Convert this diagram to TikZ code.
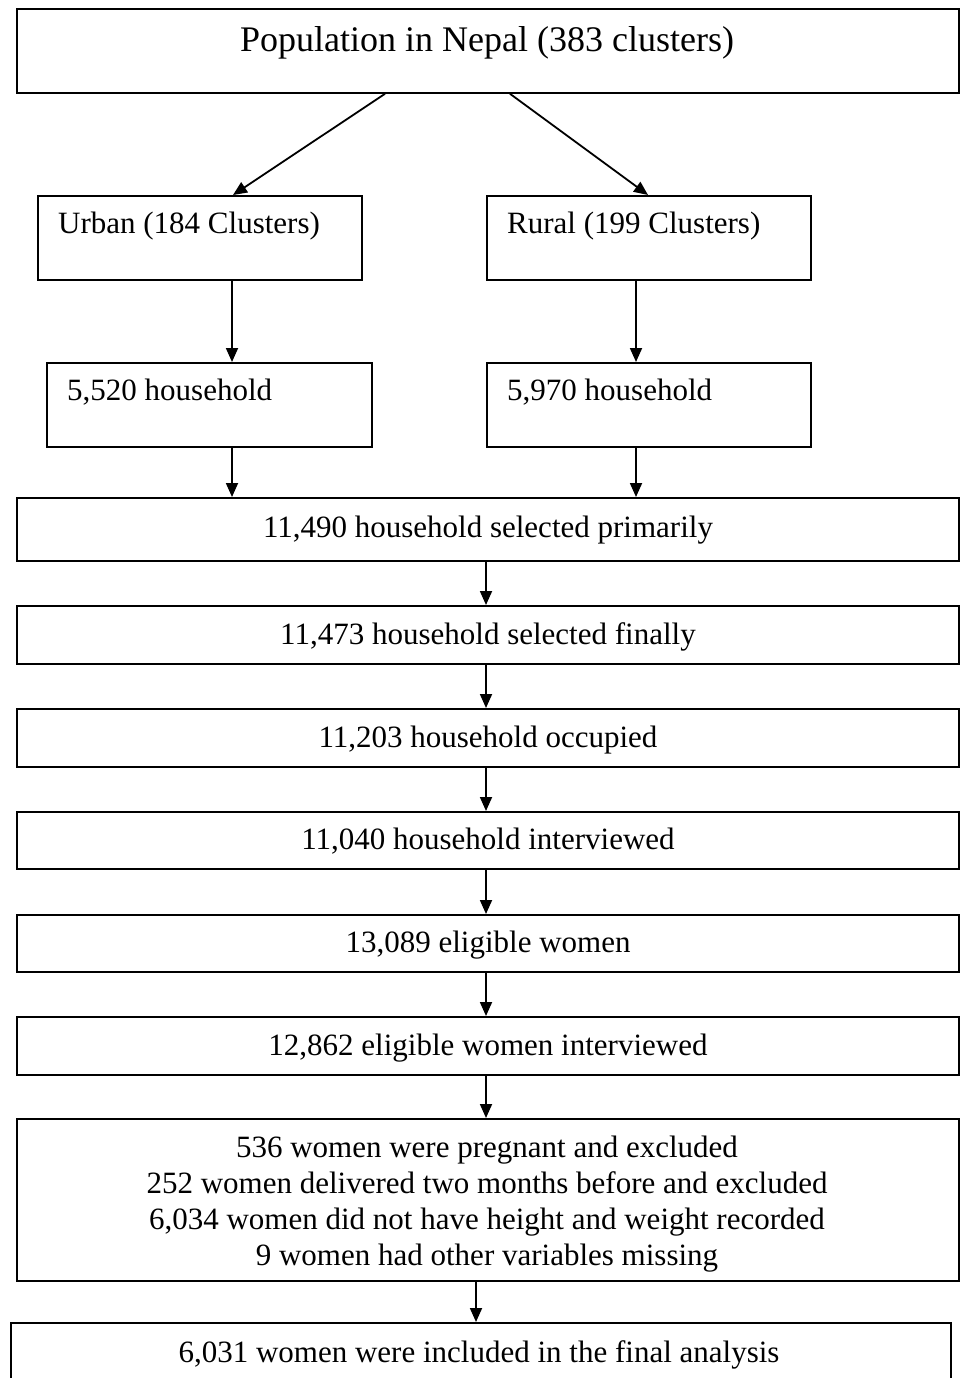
\documentclass[tikz,border=0pt]{standalone}
\usepackage{fontspec}
\setmainfont{Liberation Serif}
\usetikzlibrary{arrows.meta,calc}
\tikzset{
  flowbox/.style={draw, line width=1.8pt, rectangle, inner sep=0pt, anchor=north west},
  lbl/.style={font=\fontsize{31}{36}\selectfont, inner sep=0pt, anchor=base},
  lblw/.style={lbl, anchor=base west},
  arr/.style={line width=1.8pt, -{Triangle[length=14pt,width=12pt]}}
}
\begin{document}
\begin{tikzpicture}[x=1pt,y=-1pt]
\useasboundingbox (0,0) rectangle (960,1378);
\clip (0,0) rectangle (960,1378);
\fill[white] (0,0) rectangle (960,1378);

% boxes
\node[flowbox, minimum width=942pt, minimum height=84pt] (pop) at (16,8) {};
\node[flowbox, minimum width=324pt, minimum height=84pt] (urban) at (37,195) {};
\node[flowbox, minimum width=324pt, minimum height=84pt] (rural) at (486,195) {};
\node[flowbox, minimum width=325pt, minimum height=84pt] (hu) at (46,362) {};
\node[flowbox, minimum width=324pt, minimum height=84pt] (hr) at (486,362) {};
\node[flowbox, minimum width=942pt, minimum height=63pt] (b1) at (16,497) {};
\node[flowbox, minimum width=942pt, minimum height=58pt] (b2) at (16,605) {};
\node[flowbox, minimum width=942pt, minimum height=58pt] (b3) at (16,708) {};
\node[flowbox, minimum width=942pt, minimum height=57pt] (b4) at (16,811) {};
\node[flowbox, minimum width=942pt, minimum height=57pt] (b5) at (16,914) {};
\node[flowbox, minimum width=942pt, minimum height=58pt] (b6) at (16,1016) {};
\node[flowbox, minimum width=942pt, minimum height=162pt] (excl) at (16,1118) {};
\node[flowbox, minimum width=940pt, minimum height=100pt] (final) at (10,1322) {};

% texts
\node[lbl, font=\fontsize{36}{40}\selectfont] (tpop) at (487,52) {Population in Nepal (383 clusters)};
\node[lblw] (turban) at (58,233) {Urban (184 Clusters)};
\node[lblw] (trural) at (507,233) {Rural (199 Clusters)};
\node[lblw] (thu) at (67,400) {5,520 household};
\node[lblw] (thr) at (507,400) {5,970 household};
\node[lbl] (tb1) at (488,537) {11,490 household selected primarily};
\node[lbl] (tb2) at (488,644) {11,473 household selected finally};
\node[lbl] (tb3) at (488,747) {11,203 household occupied};
\node[lbl] (tb4) at (488,849) {11,040 household interviewed};
\node[lbl] (tb5) at (488,952) {13,089 eligible women};
\node[lbl] (tb6) at (488,1055) {12,862 eligible women interviewed};
\node[lbl, anchor=center, align=center] (texcl) at (487,1204)
  {536 women were pregnant and excluded\\
   252 women delivered two months before and excluded\\
   6,034 women did not have height and weight recorded\\
   9 women had other variables missing};
\node[lbl] (tfinal) at (479,1362) {6,031 women were included in the final analysis};

% connector x positions
\coordinate (xa) at (385,0);
\coordinate (xb) at (510,0);
\coordinate (xu) at (233,0);
\coordinate (xr) at (648,0);
\coordinate (xl) at (232,0);
\coordinate (xrr) at (636,0);
\coordinate (xc) at (486,0);
\coordinate (xf) at (476,0);

% connectors
\draw[arr] (pop.south -| xa) -- (urban.north -| xu);
\draw[arr] (pop.south -| xb) -- (rural.north -| xr);
\draw[arr] (urban.south -| xl) -- (hu.north -| xl);
\draw[arr] (rural.south -| xrr) -- (hr.north -| xrr);
\draw[arr] (hu.south -| xl) -- (b1.north -| xl);
\draw[arr] (hr.south -| xrr) -- (b1.north -| xrr);
\draw[arr] (b1.south -| xc) -- (b2.north -| xc);
\draw[arr] (b2.south -| xc) -- (b3.north -| xc);
\draw[arr] (b3.south -| xc) -- (b4.north -| xc);
\draw[arr] (b4.south -| xc) -- (b5.north -| xc);
\draw[arr] (b5.south -| xc) -- (b6.north -| xc);
\draw[arr] (b6.south -| xc) -- (excl.north -| xc);
\draw[arr] (excl.south -| xf) -- (final.north -| xf);
\end{tikzpicture}
\end{document}
